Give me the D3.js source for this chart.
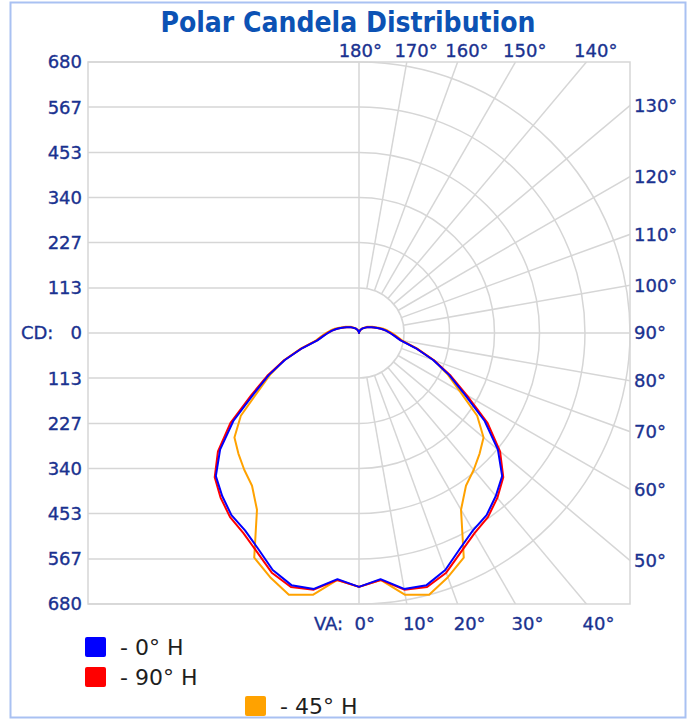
<!DOCTYPE html>
<html>
<head>
<meta charset="utf-8">
<script src="https://cdn.jsdelivr.net/npm/d3@7"></script>
<style>
body{margin:0;background:#fff;}
svg text{font-family:"DejaVu Sans",Verdana,sans-serif;}
</style>
</head>
<body>
<script>
// vertical angles (deg from nadir) of the photometric data
var vAngles=[0,5,10,15,20,25,30,35,40,45,50,55,60,65,70,75,80,85,90,95,100,105,110,115,120,125,130,135,140,145,150,155,160,165,170,175,180];
// candela per vertical angle, one list per horizontal plane
var cd0H =[637,620,652,655,633,598,572,558,534,508,455,385,305,250,198,148,106,90,78,68,58,48,40,34,29,25,21,18,15,13,10,8,6,4,3,1,0];
var cd90H=[637,622,654,660,640,606,580,564,540,512,462,394,312,254,200,149,107,91,79,68,58,48,40,34,29,25,21,18,15,13,10,8,6,4,3,1,0];
var cd45H=[637,622,667,680,652,622,512,468,448,428,408,362,292,245,200,151,110,95,83,72,62,51,43,37,31,27,23,19,16,14,11,9,7,5,3,1,0];

var cdTicks=[0,113,227,340,453,567,680];
var angleTicks=[0,10,20,30,40,50,60,70,80,90,100,110,120,130,140,150,160,170,180];
var angleLabels=["VA: 0°","10°","20°","30°","40°","50°","60°","70°","80°","90°","100°","110°","120°","130°","140°","150°","160°","170°","180°"];

var seriesNames=["- 0° H","- 90° H","- 45° H"];
var seriesColors=["#0000ff","#ff0000","#ffa200"];

var width=687,height=721;
var cx=359,cy=333,R=271;
var grid="#d6d6d6", labelColor="#1a3290";

var svg=d3.select("body").append("svg")
  .attr("width",width)
  .attr("height",height);

// outer light blue border
svg.append("rect")
  .attr("x",10.5).attr("y",2.5)
  .attr("width",675).attr("height",715)
  .attr("fill","none")
  .attr("stroke","#a9c1f2")
  .attr("stroke-width",2);

svg.append("text")
  .attr("x",348).attr("y",32)
  .attr("text-anchor","middle")
  .attr("font-size","28px")
  .attr("font-weight","bold")
  .style("font-stretch","condensed")
  .style("font-family","'DejaVu Sans Condensed','DejaVu Sans',sans-serif")
  .attr("fill","#0c52b4")
  .text("Polar Candela Distribution");

var r=d3.scaleLinear().domain([0,680]).range([0,R]);
// left side cartesian scale: negative = above centre
var y=d3.scaleLinear().domain([-680,680]).range([cy-R,cy+R]);

var rad=function(a){return a*Math.PI/180;};

svg.append("clipPath").attr("id","frame")
  .append("rect")
  .attr("x",cx-R).attr("y",cy-R)
  .attr("width",2*R).attr("height",2*R);

var g=svg.append("g");

// horizontal lines on the left half
var leftVals=cdTicks.map(function(d){return -d;}).concat(cdTicks.slice(1));
g.selectAll(".hline").data(leftVals).enter()
  .append("line")
  .attr("class","hline")
  .attr("x1",cx-R).attr("x2",function(d){return d===0?cx+R:cx;})
  .attr("y1",function(d){return y(d);})
  .attr("y2",function(d){return y(d);})
  .attr("stroke",grid).attr("stroke-width",1.5);

// half circles on the right
g.selectAll(".ring").data(cdTicks.slice(1)).enter()
  .append("path")
  .attr("class","ring")
  .attr("d",function(d){
    var p=d3.path();
    p.arc(cx,cy,r(d),-Math.PI/2,Math.PI/2);
    return p.toString();
  })
  .attr("fill","none")
  .attr("stroke",grid).attr("stroke-width",1.5);

// radial spokes, clipped by the frame
g.append("g").attr("clip-path","url(#frame)")
  .selectAll("line").data(angleTicks.filter(function(a){return a>0&&a<180&&a!==90;})).enter()
  .append("line")
  .attr("x1",function(a){return cx+r(113)*Math.sin(rad(a));})
  .attr("y1",function(a){return cy+r(113)*Math.cos(rad(a));})
  .attr("x2",function(a){return cx+2*R*Math.sin(rad(a));})
  .attr("y2",function(a){return cy+2*R*Math.cos(rad(a));})
  .attr("stroke",grid).attr("stroke-width",1.5);

// centre vertical
g.append("line")
  .attr("x1",cx).attr("x2",cx)
  .attr("y1",cy-R).attr("y2",cy+R)
  .attr("stroke",grid).attr("stroke-width",1.5);

g.append("rect")
  .attr("x",cx-R).attr("y",cy-R)
  .attr("width",2*R).attr("height",2*R)
  .attr("fill","none")
  .attr("stroke",grid).attr("stroke-width",1.5);

// left labels
svg.selectAll(".cdlab").data(leftVals).enter()
  .append("text")
  .attr("class","cdlab")
  .attr("x",82)
  .attr("y",function(d){return y(d);})
  .attr("dy","0.36em")
  .attr("text-anchor","end")
  .attr("font-size","18px")
  .attr("fill",labelColor)
  .attr("stroke",labelColor).attr("stroke-width",0.35)
  .style("white-space","pre")
  .text(function(d){return d===0?"CD:   0":Math.abs(d);});

// angle labels where the spoke meets the frame
function hit(a){
  var s=Math.sin(rad(a)),c=Math.cos(rad(a));
  if(Math.abs(c)>=s) return {x:cx+R*s/Math.abs(c),y:c>0?cy+R:cy-R,side:c>0?"bottom":"top"};
  return {x:cx+R,y:cy+R*c/s,side:"right"};
}
svg.selectAll(".alab").data(angleTicks).enter()
  .append("text")
  .attr("class","alab")
  .attr("font-size","18px")
  .attr("fill",labelColor)
  .attr("stroke",labelColor).attr("stroke-width",0.35)
  .style("white-space","pre")
  .each(function(a,i){
    var h=hit(a),t=d3.select(this);
    if(h.side==="right"){
      t.attr("x",634).attr("y",h.y).attr("dy","0.36em").attr("text-anchor","start");
    }else if(h.side==="top"){
      t.attr("x",h.x+(a===180?23:31)).attr("y",57).attr("text-anchor","end");
    }else{
      t.attr("x",h.x+(a===0?16:28)).attr("y",630).attr("text-anchor","end");
    }
    t.text(angleLabels[i].replace(": ",":  "));
  });

// candela curves, right half then mirrored left half
function outline(vals){
  var pts=vAngles.map(function(a,i){return [Math.PI-rad(a),vals[i]];});
  for(var i=vAngles.length-2;i>0;i--){
    pts.push([Math.PI+rad(vAngles[i]),vals[i]]);
  }
  return pts;
}
var line=d3.lineRadial()
  .angle(function(d){return d[0];})
  .radius(function(d){return r(d[1]);})
  .curve(d3.curveLinearClosed);

var curves=[cd45H,cd90H,cd0H];
var curveColors=[seriesColors[2],seriesColors[1],seriesColors[0]];
svg.append("g").attr("transform","translate("+cx+","+cy+")")
  .selectAll("path").data(curves).enter()
  .append("path")
  .attr("d",function(d){return line(outline(d));})
  .attr("fill","none")
  .attr("stroke",function(d,i){return curveColors[i];})
  .attr("stroke-width",2)
  .attr("stroke-linejoin","round");

// legend
var legendPos=[[85,637],[85,667],[245,696]];
var lg=svg.selectAll(".leg").data(seriesNames).enter()
  .append("g").attr("class","leg")
  .attr("transform",function(d,i){return "translate("+legendPos[i][0]+","+legendPos[i][1]+")";});
lg.append("rect")
  .attr("width",21).attr("height",20).attr("rx",2)
  .attr("fill",function(d,i){return seriesColors[i];});
lg.append("text")
  .attr("x",35).attr("y",18)
  .attr("font-size","22px")
  .attr("fill","#1e1e1e")
  .text(function(d){return d;});
</script>
</body>
</html>
